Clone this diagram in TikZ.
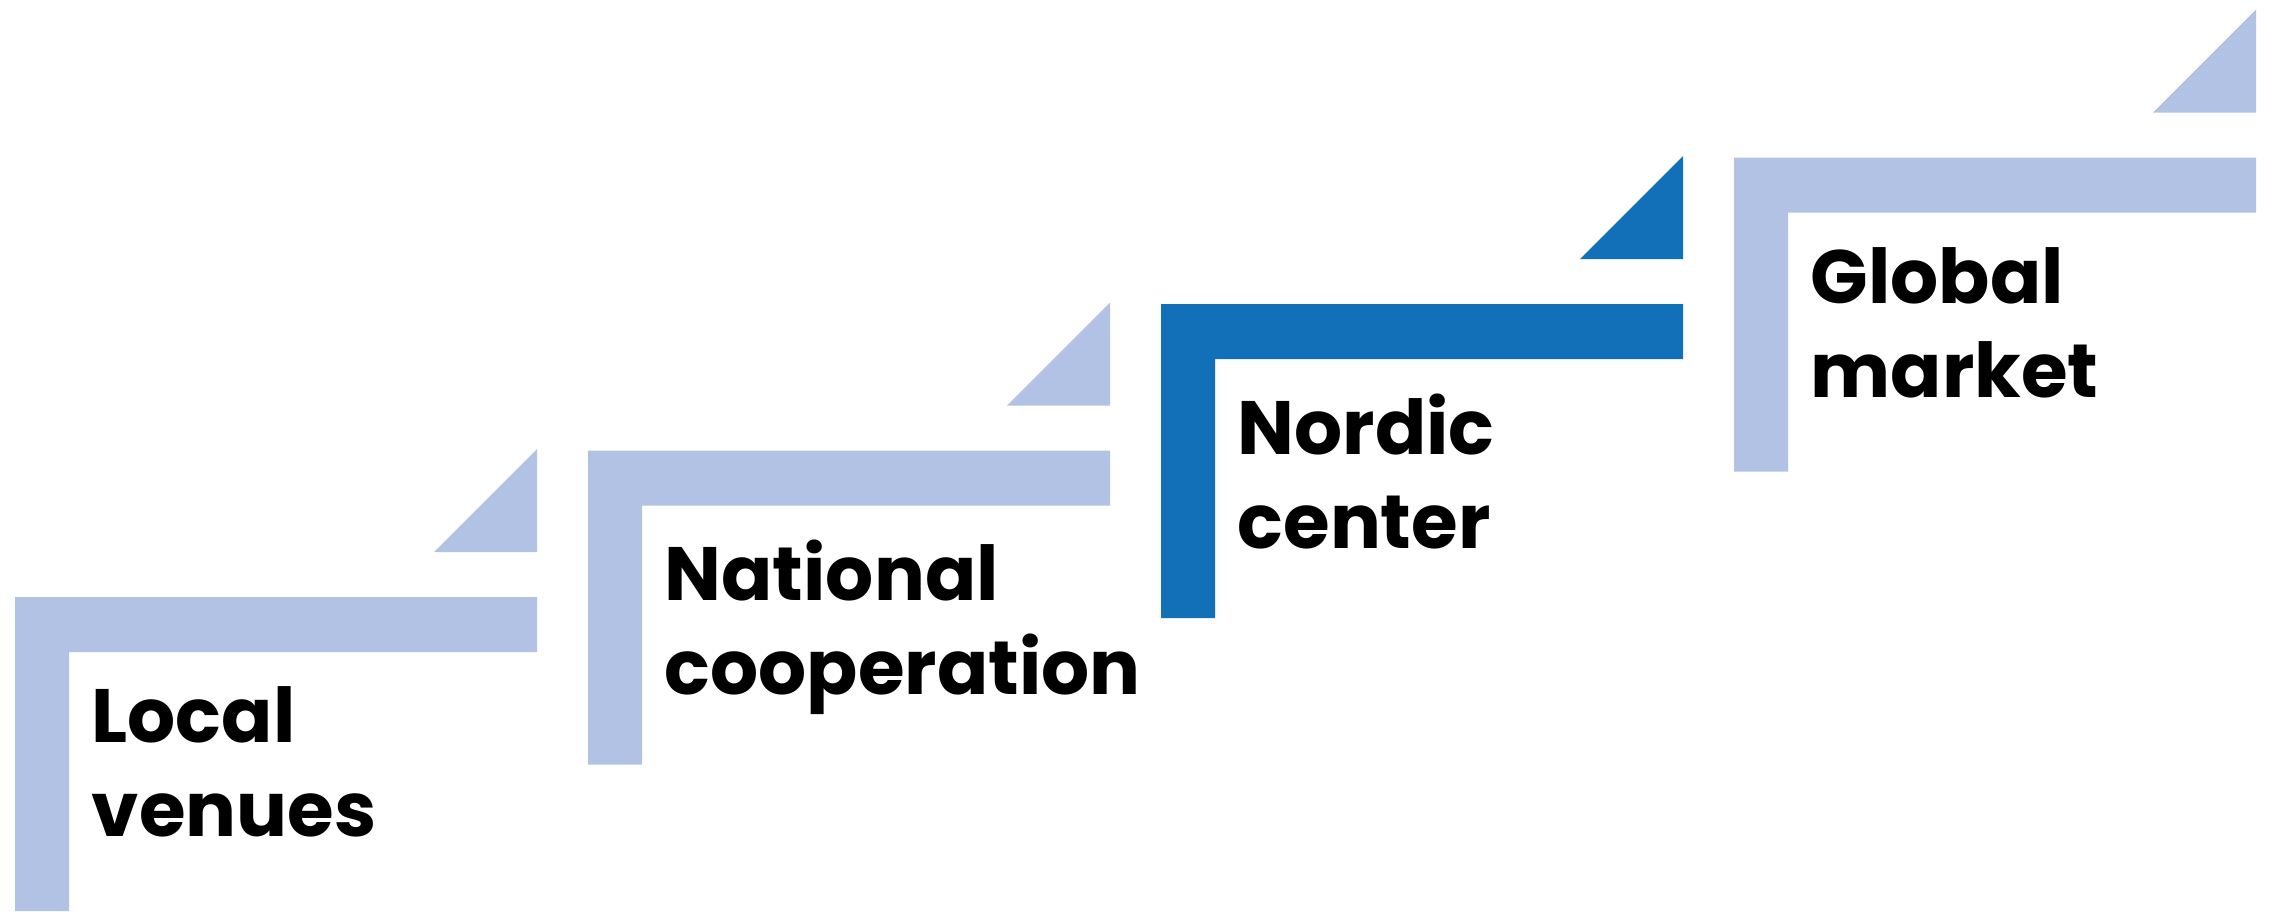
\documentclass[tikz,border=0pt]{standalone}
\usepackage{fontspec}
\setmainfont{Poppins}
\usetikzlibrary{positioning}

\definecolor{paleblue}{RGB}{178,194,228}
\definecolor{deepblue}{RGB}{18,112,185}

\begin{document}
\begin{tikzpicture}[x=0.01cm, y=-0.01cm,
stair/.style={fill=#1, draw=none},
steptext/.style={anchor=north west, inner sep=0pt, align=left,
  font=\fontsize{21.5}{26.7}\selectfont\bfseries}]
\useasboundingbox (0,0) rectangle (2274,911);

% one stair per level, each shifted up and to the right
\foreach \i/\col/\txt in {0/paleblue/{Local\\venues},
  1/paleblue/{National\\cooperation},
  2/deepblue/{Nordic\\center},
  3/paleblue/{Global\\market}} {
  \begin{scope}[shift={(573*\i,-146.5*\i)}]
    \fill[stair=\col] (15,911) -- (15,597) -- (537,597) -- (537,652)
      -- (69,652) -- (69,911) -- cycle;
    \fill[stair=\col] (537,552) -- (537,449) -- (434,552) -- cycle;
    \node[steptext] (step\i) at (91,686) {\txt};
  \end{scope}
}
\end{tikzpicture}
\end{document}
